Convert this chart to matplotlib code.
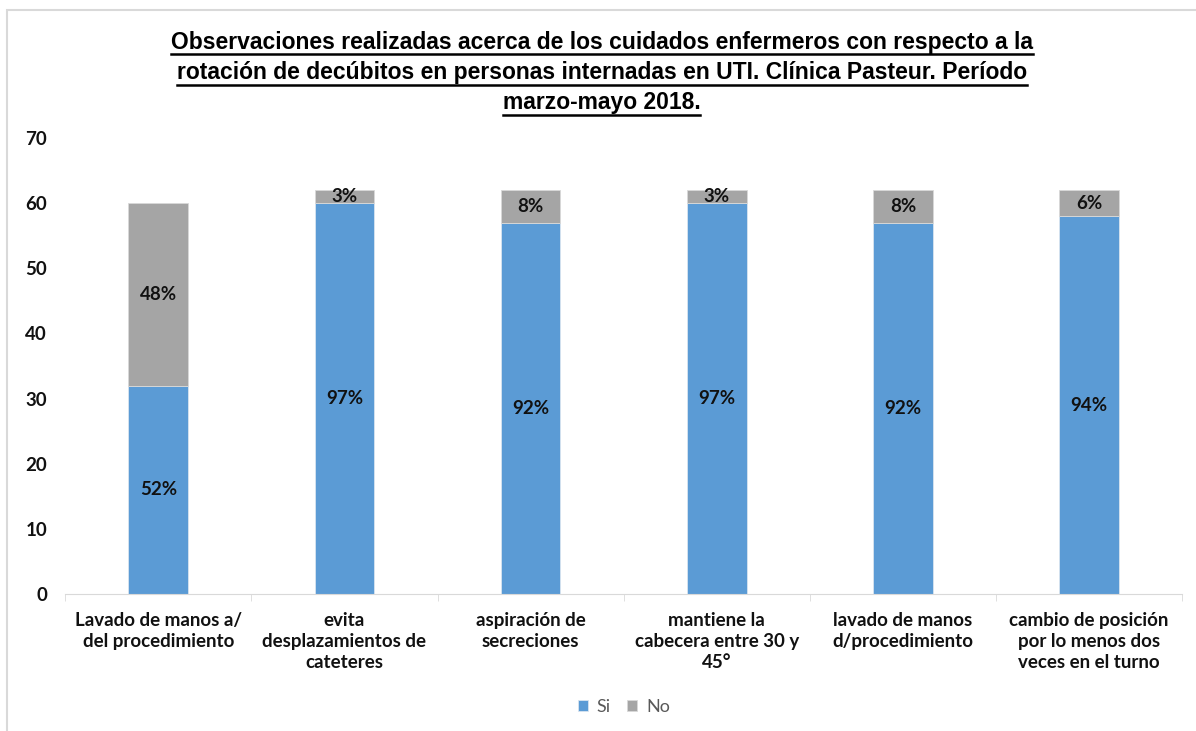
import numpy as np
import matplotlib.pyplot as plt
from matplotlib.lines import Line2D

# observaciones por item (conteos) y porcentajes informados
categorias = [
    "Lavado de manos a/\ndel procedimiento",
    "evita\ndesplazamientos de\ncateteres",
    "aspiración de\nsecreciones",
    "mantiene la\ncabecera entre 30 y\n45°",
    "lavado de manos\nd/procedimiento",
    "cambio de posición\npor lo menos dos\nveces en el turno",
]
si = [32, 60, 57, 60, 57, 58]
no = [28, 2, 5, 2, 5, 4]
si_pct = [52, 97, 92, 97, 92, 94]
no_pct = [48, 3, 8, 3, 8, 6]

titulo = [
    "Observaciones realizadas acerca de los cuidados enfermeros con respecto a la",
    "rotación de decúbitos en personas internadas en UTI. Clínica Pasteur. Período",
    "marzo-mayo 2018.",
]

azul = "#5B9BD5"
gris = "#A5A5A5"
fuente = ["Lato", "DejaVu Sans"]

fig = plt.figure(figsize=(11.96, 7.31), dpi=100)
ax = fig.add_axes([0.0545, 0.1874, 0.934, 0.6238])

x = np.arange(len(categorias))
ancho = 0.32
ax.bar(x, si, ancho, color=azul, label="Si", edgecolor="#D9E4F0", linewidth=0.6)
ax.bar(x, no, ancho, bottom=si, color=gris, label="No", edgecolor="#D9D9D9", linewidth=0.6)

for i in range(len(x)):
    ax.text(x[i], si[i] / 2, f"{si_pct[i]}%", ha="center", va="center",
            fontsize=13.5, fontweight="bold", family=fuente, color="#111111")
    ax.text(x[i], si[i] + no[i] / 2, f"{no_pct[i]}%", ha="center", va="center",
            fontsize=13.5, fontweight="bold", family=fuente, color="#111111")

ax.set_xlim(-0.5, len(x) - 0.5)
ax.set_ylim(0, 70)
ax.set_yticks(range(0, 71, 10))
ax.set_xticks(x)
ax.set_xticklabels(categorias, fontsize=13.5, fontweight="bold", family=fuente,
                   linespacing=1.3, color="#111111")
ax.set_xticks(np.arange(-0.5, len(x)), minor=True)
ax.tick_params(axis="x", which="major", length=0, pad=13)
ax.tick_params(axis="x", which="minor", length=5, color="#D9D9D9")
ax.tick_params(axis="y", length=0, pad=13)
for lbl in ax.get_yticklabels():
    lbl.set_fontweight("bold")
    lbl.set_fontsize(13.5)
    lbl.set_family(fuente)
    lbl.set_color("#111111")

for s in ["top", "right", "left"]:
    ax.spines[s].set_visible(False)
ax.spines["bottom"].set_color("#D9D9D9")

ax.legend(loc="center", bbox_to_anchor=(0.5, -0.248), ncol=2, frameon=False,
          handlelength=0.55, handleheight=0.55, handletextpad=0.5, columnspacing=0.9,
          prop={"family": fuente, "size": 13}, labelcolor="#595959")

# titulo subrayado, una linea por vez
fig.canvas.draw()
renderer = fig.canvas.get_renderer()
ys = [42, 73, 103]
for linea, ypx in zip(titulo, ys):
    t = fig.text(0.503, 1 - ypx / 731, linea, ha="center", va="center",
                 fontsize=16.5, fontweight="bold", family=["Liberation Sans", "DejaVu Sans"])
    bb = t.get_window_extent(renderer).transformed(fig.transFigure.inverted())
    fig.add_artist(Line2D([bb.x0, bb.x1], [bb.y0 - 0.001, bb.y0 - 0.001],
                          transform=fig.transFigure, color="black", linewidth=1.8))

# borde del area del grafico
fig.add_artist(plt.Rectangle((0.006, -0.01), 1.0, 0.997, transform=fig.transFigure,
                             fill=False, edgecolor="#D9D9D9", linewidth=1.5))

fig.savefig("out.png", dpi=100)
